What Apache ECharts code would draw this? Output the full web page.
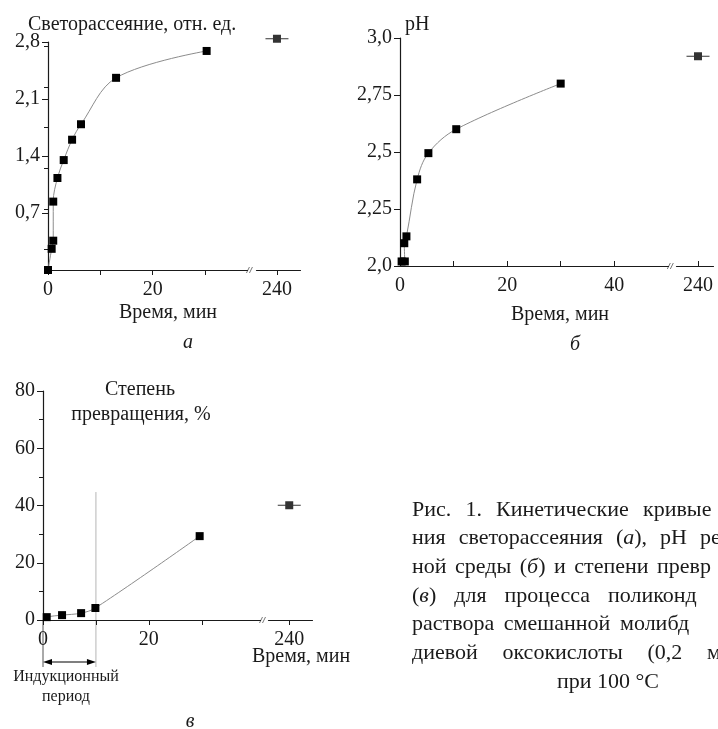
<!DOCTYPE html>
<html>
<head>
<meta charset="utf-8">
<script src="https://cdn.jsdelivr.net/npm/echarts@6.0.0/dist/echarts.min.js"></script>
<style>
  html, body { margin: 0; padding: 0; background: #fff; }
  #main { width: 718px; height: 729px; }
</style>
</head>
<body>
<div id="main"></div>
<script>
// а: светорассеяние
var timeA = [0, 0.7, 1.0, 1.0, 1.8, 3.0, 4.6, 6.3, 13.0, 30.3];
var lightA = [0, 0.26, 0.36, 0.84, 1.13, 1.35, 1.6, 1.79, 2.36, 2.69];
var lastA = [240, 2.84];
var yTicksA = [0.7, 1.4, 2.1, 2.8];
var yLabelsA = ['0,7', '1,4', '2,1', '2,8'];

// б: pH
var timeB = [0.3, 0.9, 0.8, 1.2, 3.2, 5.3, 10.5, 30];
var phB = [2.02, 2.02, 2.1, 2.13, 2.38, 2.495, 2.60, 2.80];
var lastB = [240, 2.92];
var yTicksB = [2, 2.25, 2.5, 2.75, 3];
var yLabelsB = ['2,0', '2,25', '2,5', '2,75', '3,0'];

// в: степень превращения
var timeC = [0.7, 3.6, 7.2, 9.9, 29.6];
var convC = [1.0, 1.7, 2.4, 4.2, 29.3];
var lastC = [240, 40.1];
var yTicksC = [0, 20, 40, 60, 80];
var inductionEnd = 10;

var xTicksA = [0, 10, 20, 30, 240];
var xTicksB = [0, 10, 20, 30, 40, 240];
var xLabelsA = [0, 20, 240];
var xLabelsB = [0, 20, 40, 240];

var serif = '"Liberation Serif", "Times New Roman", serif';
var ink = '#1a1a1a';

function pairs(xs, ys) {
  return xs.map(function (x, i) { return [x, ys[i]]; });
}

function xAxis(grid, brk, max, gap, ticks, labels, inside) {
  return {
    type: 'value', gridIndex: grid, min: 0, max: max,
    breaks: [{ start: brk[0], end: brk[1], gap: gap }],
    breakArea: { show: false },
    axisLine: { show: true, onZero: false, lineStyle: { color: ink, width: 1.2 } },
    axisTick: { show: true, inside: inside, length: 5, customValues: ticks, lineStyle: { color: ink } },
    axisLabel: { customValues: labels, color: ink, fontFamily: serif, fontSize: 20, margin: 10 },
    splitLine: { show: false }
  };
}

function yAxis(grid, min, max, ticks, labels, minor, lift) {
  return {
    type: 'value', gridIndex: grid, min: min, max: max,
    axisLine: { show: true, onZero: false, lineStyle: { color: ink, width: 1.2 } },
    axisTick: { show: true, length: 6, customValues: ticks, lineStyle: { color: ink } },
    minorTick: { show: minor, splitNumber: 2, length: 4, lineStyle: { color: ink } },
    axisLabel: {
      customValues: ticks, color: ink, fontFamily: serif, fontSize: 20, margin: 8,
      padding: [0, 0, lift, 0],
      formatter: function (v) {
        var i = ticks.indexOf(v);
        return i >= 0 ? labels[i] : '';
      }
    },
    splitLine: { show: false }
  };
}

// квадрат с чертой — точка на 240 мин
var endSymbol = 'path://M0,3.5H7.5V0H15.5V3.5H23V4.5H15.5V8H7.5V4.5H0Z';

function curve(grid, data) {
  return {
    type: 'line', xAxisIndex: grid, yAxisIndex: grid, data: data,
    smooth: 0.35, symbol: 'rect', symbolSize: 8, showAllSymbol: true, clip: false,
    itemStyle: { color: '#000' }, lineStyle: { color: '#8c8c8c', width: 1 }
  };
}
function endPoint(grid, p) {
  return {
    type: 'scatter', xAxisIndex: grid, yAxisIndex: grid, data: [p],
    symbol: endSymbol, symbolSize: [23, 8], clip: false, itemStyle: { color: '#000' }
  };
}

var chart = echarts.init(document.getElementById('main'));
var breaks = [[38, 236], [50, 236], [41, 236]];

chart.setOption({
  animation: false,
  backgroundColor: '#fff',
  grid: [
    { left: 48, top: 42, width: 252, height: 228 },
    { left: 400, top: 38, width: 313, height: 228 },
    { left: 43, top: 391, width: 269, height: 229 }
  ],
  xAxis: [
    xAxis(0, breaks[0], 244.4, '3.6%', xTicksA, xLabelsA, false),
    xAxis(1, breaks[1], 242.8, '2.8%', xTicksB, xLabelsB, true),
    xAxis(2, breaks[2], 244.3, '3%', xTicksA, xLabelsA, false)
  ],
  yAxis: [
    yAxis(0, 0, 2.8, yTicksA, yLabelsA, true, 0),
    yAxis(1, 2, 3, yTicksB, yLabelsB, false, 5),
    yAxis(2, 0, 80, yTicksC, yTicksC.map(String), true, 0)
  ],
  series: [
    curve(0, pairs(timeA, lightA)), endPoint(0, lastA),
    curve(1, pairs(timeB, phB)), endPoint(1, lastB),
    // первая точка в (0,0) только для линии — без маркера
    curve(2, [{ value: [0, 0], symbol: 'none' }].concat(pairs(timeC, convC))), endPoint(2, lastC)
  ]
});

function label(x, y, text, size, align, italic) {
  return {
    type: 'text', x: x, y: y, silent: true,
    style: {
      text: text, fill: ink, align: align || 'left', verticalAlign: 'middle',
      font: (italic ? 'italic ' : '') + size + 'px ' + serif
    }
  };
}

var g = [];
g.push(label(28, 25, 'Светорассеяние, отн. ед.', 20));
g.push(label(168, 313, 'Время, мин', 20, 'center'));
g.push(label(188, 343, 'а', 20, 'center', true));
g.push(label(405, 25, 'pH', 20));
g.push(label(560, 315, 'Время, мин', 20, 'center'));
g.push(label(575, 345, 'б', 20, 'center', true));
g.push(label(140, 390, 'Степень', 20, 'center'));
g.push(label(141, 415, 'превращения, %', 20, 'center'));
g.push(label(252, 657, 'Время, мин', 20));
g.push(label(66, 677, 'Индукционный', 16, 'center'));
g.push(label(66, 697, 'период', 16, 'center'));
g.push(label(190, 722, 'в', 20, 'center', true));

// знаки разрыва оси
[0, 1, 2].forEach(function (i) {
  var px = chart.convertToPixel({ xAxisIndex: i }, breaks[i][0]);
  var py = chart.convertToPixel({ yAxisIndex: i }, i === 1 ? 2 : 0);
  [1, 4].forEach(function (d) {
    g.push({ type: 'line', silent: true, shape: { x1: px + d - 1.5, y1: py + 3, x2: px + d + 1.5, y2: py - 3 },
      style: { stroke: '#777', lineWidth: 1 } });
  });
});

// индукционный период
var c0 = chart.convertToPixel({ gridIndex: 2 }, [0, 0]);
var cTop = chart.convertToPixel({ gridIndex: 2 }, [inductionEnd, 44.7]);
var arrowY = c0[1] + 42, lineBottom = c0[1] + 47;
g.push({ type: 'line', silent: true, shape: { x1: cTop[0], y1: cTop[1], x2: cTop[0], y2: lineBottom }, style: { stroke: '#b5b5b5', lineWidth: 1 } });
g.push({ type: 'line', silent: true, shape: { x1: c0[0], y1: c0[1], x2: c0[0], y2: lineBottom }, style: { stroke: '#555', lineWidth: 1 } });
g.push({ type: 'line', silent: true, shape: { x1: c0[0] + 6, y1: arrowY, x2: cTop[0] - 6, y2: arrowY }, style: { stroke: '#000', lineWidth: 1.2 } });
g.push({ type: 'polygon', silent: true, shape: { points: [[c0[0], arrowY], [c0[0] + 9, arrowY - 3], [c0[0] + 9, arrowY + 3]] }, style: { fill: '#000' } });
g.push({ type: 'polygon', silent: true, shape: { points: [[cTop[0], arrowY], [cTop[0] - 9, arrowY - 3], [cTop[0] - 9, arrowY + 3]] }, style: { fill: '#000' } });

// подпись к рисунку: строки по ширине, последняя видимая часть обрезана краем
var capSize = 22;
var capFont = capSize + 'px ' + serif, capItalic = 'italic ' + capSize + 'px ' + serif;
var caption = [
  [510, 643, ['Рис.', '1.', 'Кинетические', 'кривые']],
  [538, 700, ['ния', 'светорассеяния', '(*а*),', 'pH', 'ре']],
  [567, 657, ['ной', 'среды', '(*б*)', 'и', 'степени', 'превр']],
  [596, 608, ['(*в*)', 'для', 'процесса', 'поликонд']],
  [624, 620, ['раствора', 'смешанной', 'молибд']],
  [653, 707, ['диевой', 'оксокислоты', '(0,2', 'м']]
];
var ctx = document.createElement('canvas').getContext('2d');
function measure(parts) {
  var w = 0;
  parts.forEach(function (p, k) { ctx.font = k % 2 ? capItalic : capFont; w += ctx.measureText(p).width; });
  return w;
}
function capWord(x, y, parts) {
  var rich = parts.map(function (p, k) { return p ? '{' + (k % 2 ? 'i' : 'n') + '|' + p + '}' : ''; }).join('');
  return {
    type: 'text', x: x, y: y, silent: true,
    style: {
      text: rich, verticalAlign: 'middle',
      rich: { n: { font: capFont, fill: ink }, i: { font: capItalic, fill: ink } }
    }
  };
}
caption.forEach(function (line) {
  var words = line[2].map(function (w) { return w.split('*'); });
  var used = 0;
  for (var k = 0; k < words.length - 1; k++) used += measure(words[k]);
  var space = (line[1] - 412 - used) / (words.length - 1);
  var x = 412;
  words.forEach(function (parts) {
    g.push(capWord(x, line[0], parts));
    x += measure(parts) + space;
  });
});
g.push({ type: 'text', x: 608, y: 682, silent: true,
  style: { text: 'при 100 °C', font: capFont, fill: ink, align: 'center', verticalAlign: 'middle' } });

chart.setOption({ graphic: g });
</script>
</body>
</html>
